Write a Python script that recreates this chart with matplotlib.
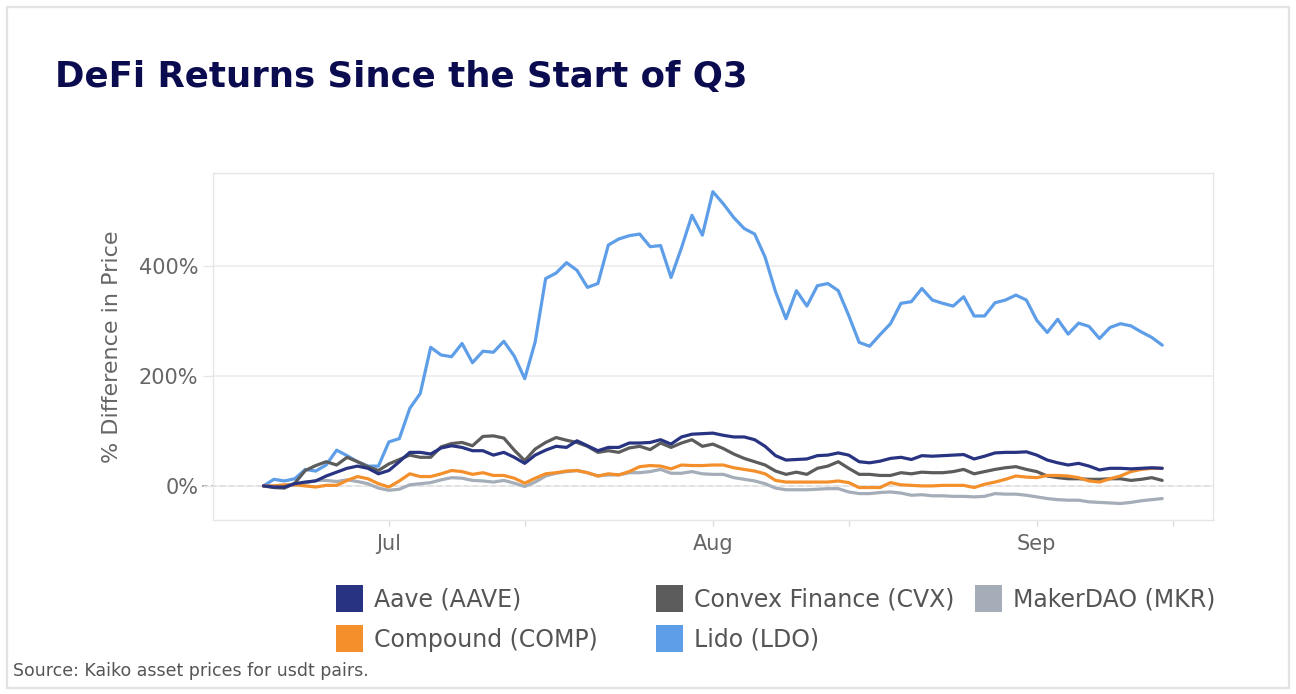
import numpy as np
import pandas as pd
import matplotlib
matplotlib.use("Agg")
import matplotlib.pyplot as plt
import matplotlib.dates as mdates
from matplotlib.patches import Rectangle

# daily % change since 19 Jun 2022
dates = pd.date_range("2022-06-19", periods=87, freq="D")

aave = [0, -2, -2, 4, 7, 9, 18, 25, 32, 36, 32, 22, 28, 44, 61, 61, 58, 69, 73, 70,
        64, 64, 56, 61, 52, 41, 56,
        65, 72, 70, 82, 73, 64, 70, 70, 78, 78, 79, 84, 76, 89, 94, 95,
        96, 92, 89, 89, 84, 72, 55, 47, 48, 49, 55, 56, 60, 56, 44, 42, 45, 50,
        52, 48, 55, 54, 55, 56, 57, 49, 54, 60, 61, 61, 62, 56, 47, 42, 38, 41,
        36, 29, 32, 32, 31, 32, 33, 32]
comp = [0, 0, 2, 2, 0, -2, 1, 1, 10, 17, 13, 4, -2, 9, 22, 17, 17, 22, 28, 26,
        21, 24, 19, 19, 14, 5, 14,
        22, 24, 27, 28, 24, 18, 22, 20, 26, 35, 37, 36, 31, 38, 37, 37,
        38, 38, 33, 30, 27, 22, 10, 7, 7, 7, 7, 7, 9, 6, -3, -3, -3, 6,
        2, 1, 0, 0, 1, 1, 1, -3, 3, 7, 12, 18, 16, 15, 19, 19, 18, 15,
        9, 7, 13, 18, 26, 30, 32, 32]
cvx = [0, -3, -4, 5, 28, 37, 44, 38, 52, 44, 35, 28, 40, 48, 56, 52, 52, 71, 77, 79,
       73, 90, 91, 87, 65, 46, 67,
       79, 88, 83, 79, 72, 61, 64, 61, 69, 72, 66, 78, 70, 78, 84, 72,
       76, 68, 58, 50, 44, 38, 27, 21, 25, 21, 32, 36, 44, 32, 21, 21, 19, 19,
       24, 22, 25, 24, 24, 26, 30, 22, 26, 30, 33, 35, 30, 26, 18, 15, 13, 13,
       12, 12, 13, 13, 10, 12, 15, 10]
ldo = [0, 12, 9, 13, 30, 27, 38, 65, 55, 44, 36, 36,
       80, 86, 141, 168, 252, 238, 235, 259, 224, 245, 243, 263, 236, 195, 262,
       377, 387, 406, 392, 361, 368, 438, 449, 455, 458, 435, 437, 379, 433, 492, 456, 535,
       513, 488, 468, 458, 416, 353, 304, 355, 327, 364, 368, 355, 310, 261, 254, 275,
       295, 332, 335, 359, 338, 332, 327, 344, 309, 309, 333, 338, 347, 338, 301, 279,
       303, 276, 296, 290, 268, 288, 295, 291, 280, 270, 256]
mkr = [0, 0, 0, 2, 5, 10, 10, 8, 11, 8, 4, -4, -8, -6, 2, 4, 6, 11, 15, 14,
       10, 9, 7, 10, 5, -1, 7,
       18, 23, 26, 28, 24, 18, 20, 20, 24, 24, 26, 30, 23, 23, 26, 22,
       21, 21, 15, 12, 9, 4, -4, -7, -7, -7, -6, -5, -5, -11, -14, -14, -12, -11,
       -13, -17, -16, -18, -18, -19, -19, -20, -19, -14, -15, -15, -17, -20, -23, -25,
       -26, -26, -29, -30, -31, -32, -30, -27, -25, -23]

names = ["Aave (AAVE)", "Compound (COMP)", "Convex Finance (CVX)", "Lido (LDO)", "MakerDAO (MKR)"]
series = [aave, comp, cvx, ldo, mkr]
colors = ["#283482", "#f4902c", "#5c5c5c", "#5e9ee8", "#a5adb9"]

yticks = [0, 200, 400]

W, H = 1296, 694
fig = plt.figure(figsize=(W / 100, H / 100), dpi=100)
fig.patch.set_facecolor("white")

# outer frame
fig.patches.append(Rectangle((7 / W, 6 / H), 1282 / W, 681 / H, transform=fig.transFigure,
                             fill=False, edgecolor="#e3e3e3", linewidth=1.6))

ax = fig.add_axes([213 / W, (H - 520) / H, 1000 / W, 347 / H])

for k, (vals, c) in enumerate(zip(series, colors)):
    ax.plot(dates, vals, color=c, linewidth=2.3, solid_joinstyle="round",
            solid_capstyle="round", zorder=10 - k)

start = pd.Timestamp("2022-06-19")
ax.set_xlim(start + pd.Timedelta(days=-4.83), start + pd.Timedelta(days=90.86))
ax.set_ylim(-62, 569)

ax.set_yticks(yticks)
ax.set_yticklabels([f"{v}%" for v in yticks])
ax.grid(axis="y", color="#ececec", linewidth=1.2, zorder=0)

# dashed zero line, running out over the tick
ax.plot([-0.011, 1], [0, 0], transform=ax.get_yaxis_transform(), color="#a8a8a8",
        linestyle=(0, (3, 2)), linewidth=1.3, clip_on=False, zorder=1)

ax.xaxis.set_major_locator(mdates.MonthLocator(bymonthday=1))
ax.xaxis.set_major_formatter(mdates.DateFormatter("%b"))
ax.xaxis.set_minor_locator(mdates.MonthLocator(bymonthday=14))

ax.tick_params(axis="x", which="both", length=4.3, width=1, color="#dddddd",
               labelsize=15, labelcolor="#666666", pad=6)
ax.tick_params(axis="y", length=7.5, width=1, color="#e6e6e6",
               labelsize=15, labelcolor="#666666", pad=3)

for s in ax.spines.values():
    s.set_color("#e6e6e6")
    s.set_linewidth(1)

ax.set_ylabel("% Difference in Price", fontsize=16, color="#666666")
ax.yaxis.set_label_coords(-0.091, 0.5)

fig.text(55 / W, 1 - 87 / H, "DeFi Returns Since the Start of Q3", fontsize=25.6,
         fontweight="bold", color="#0b0b4f", va="baseline", ha="left")

# legend, fixed item width like the original
leg_x = [336, 656, 975]
leg_y = [598, 638]
for k, (name, c) in enumerate(zip(names, colors)):
    col, row = k // 2, k % 2
    x, y = leg_x[col], leg_y[row]
    fig.patches.append(Rectangle((x / W, 1 - (y + 14) / H), 27 / W, 27 / H,
                                 transform=fig.transFigure, facecolor=c, edgecolor="none"))
    fig.text((x + 38) / W, 1 - (y + 9) / H, name, fontsize=17, color="#555555",
             va="baseline", ha="left")

fig.text(13 / W, 1 - 676 / H, "Source: Kaiko asset prices for usdt pairs.", fontsize=12.5,
         color="#555555", va="baseline", ha="left")

fig.savefig("out.png", dpi=100, facecolor="white")
